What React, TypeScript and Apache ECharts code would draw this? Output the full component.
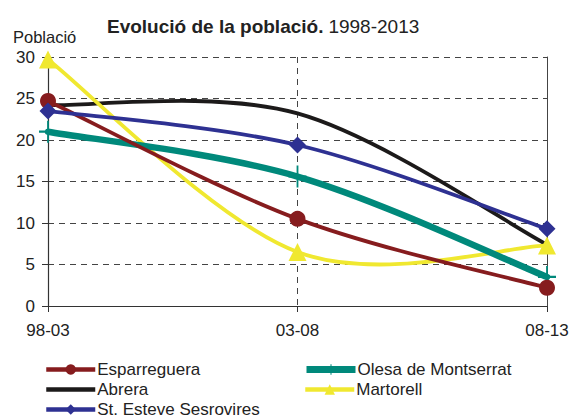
import React, { useEffect, useRef } from "react";
import * as echarts from "echarts";

const categories = ["98-03", "03-08", "08-13"];
const esparreguera = [24.7, 10.5, 2.2];
const olesa = [21.0, 15.6, 3.5];
const abrera = [24.2, 23.2, 7.4];
const martorell = [29.7, 6.5, 7.3];
const stEsteve = [23.5, 19.4, 9.3];
const yTicks = { min: 0, max: 30, interval: 5 };

const FONT = "Liberation Sans, Arial, sans-serif";
const PLUS = "path://M9,0 L11,0 L11,9 L20,9 L20,11 L11,11 L11,20 L9,20 L9,11 L0,11 L0,9 L9,9 Z";

type S = { name: string; data: number[]; color: string; width: number; symbol: string; size: any; z: number };
const seriesDefs: S[] = [
  { name: "Abrera", data: abrera, color: "#1c1a1a", width: 3.8, symbol: "none", size: 0, z: 2 },
  { name: "Martorell", data: martorell, color: "#f0e830", width: 3.8, symbol: "triangle", size: 18, z: 3 },
  { name: "Olesa de Montserrat", data: olesa, color: "#00897b", width: 6.5, symbol: PLUS, size: [18, 22], z: 4 },
  { name: "Esparreguera", data: esparreguera, color: "#861c1e", width: 3.8, symbol: "circle", size: 16, z: 5 },
  { name: "St. Esteve Sesrovires", data: stEsteve, color: "#2e3192", width: 3.8, symbol: "diamond", size: 17, z: 6 },
];

const legendPos: Record<string, [number, number]> = {
  "Esparreguera": [44, 361],
  "Abrera": [44, 381],
  "St. Esteve Sesrovires": [44, 401],
  "Olesa de Montserrat": [303, 361],
  "Martorell": [303, 381],
};

function smoothPath(pts: number[][]): string {
  const t = 1 / 6;
  let d = `M${pts[0][0]},${pts[0][1]}`;
  for (let i = 0; i < pts.length - 1; i++) {
    const p0 = pts[Math.max(i - 1, 0)];
    const p1 = pts[i];
    const p2 = pts[i + 1];
    const p3 = pts[Math.min(i + 2, pts.length - 1)];
    const c1x = p1[0] + (p2[0] - p0[0]) * t;
    const c1y = p1[1] + (p2[1] - p0[1]) * t;
    const c2x = p2[0] - (p3[0] - p1[0]) * t;
    const c2y = p2[1] - (p3[1] - p1[1]) * t;
    d += ` C${c1x},${c1y} ${c2x},${c2y} ${p2[0]},${p2[1]}`;
  }
  return d;
}

export default function App() {
  const ref = useRef<HTMLDivElement>(null);
  useEffect(() => {
    const chart = echarts.init(ref.current!, undefined, { renderer: "svg" });
    const curveSeries = seriesDefs.map((s) => ({
      type: "custom",
      name: s.name + "-curve",
      data: s.data.map((v, i) => [i, v]),
      z: s.z,
      silent: true,
      clip: false,
      renderItem: (params: any, api: any) => {
        if (params.dataIndex !== 0) return null;
        const pts = s.data.map((v, i) => api.coord([i, v]));
        return {
          type: "path",
          shape: { pathData: smoothPath(pts) },
          style: { fill: "none", stroke: s.color, lineWidth: s.width, lineCap: "round", lineJoin: "round" },
        };
      },
    }));
    const markerSeries = seriesDefs.map((s) => ({
      type: "line",
      name: s.name,
      data: s.data,
      symbol: s.symbol,
      symbolSize: s.size,
      color: s.color,
      itemStyle: { color: s.color },
      lineStyle: { color: s.color, width: s.width, opacity: 0 },
      z: s.z + 1,
    }));
    const legends = seriesDefs.map((s) => ({
      orient: "horizontal",
      left: legendPos[s.name][0],
      top: legendPos[s.name][1],
      padding: 0,
      itemWidth: 49,
      itemHeight: 13,
      textStyle: { fontSize: 17, color: "#222", fontFamily: FONT, padding: [0, 0, 0, -3] },
      data: [
        {
          name: s.name,
          lineStyle: { opacity: 1, width: s.width > 6 ? 7 : 4.5, color: s.color },
          ...(s.symbol === "none" ? { itemStyle: { opacity: 0 } } : {}),
        },
      ],
    }));
    chart.setOption({
      animation: false,
      textStyle: { fontFamily: FONT },
      title: {
        text: "{b|Evolució de la població.} {n|1998-2013}",
        left: 102,
        top: 12,
        textStyle: {
          fontWeight: "normal",
          rich: {
            b: { fontFamily: FONT, fontSize: 19, fontWeight: "bold", color: "#222" },
            n: { fontFamily: FONT, fontSize: 19, fontWeight: "normal", color: "#222" },
          },
        },
      },
      graphic: [
        {
          type: "text",
          left: 13,
          top: 28,
          style: { text: "Població", fontFamily: FONT, fontSize: 16.5, fill: "#222" },
        },
      ],
      grid: { left: 48, right: 25, top: 57, bottom: 114, containLabel: false },
      xAxis: {
        type: "category",
        data: categories,
        boundaryGap: false,
        axisLine: { lineStyle: { color: "#333", width: 1.2 } },
        axisTick: { show: true, length: 6, lineStyle: { color: "#333" } },
        axisLabel: { color: "#222", fontSize: 17, fontFamily: FONT, margin: 16 },
        splitLine: { show: true, lineStyle: { color: "#444", type: [6, 5], width: 1 } },
      },
      yAxis: [
        {
          type: "value",
          min: yTicks.min,
          max: yTicks.max,
          interval: yTicks.interval,
          axisLine: { show: true, lineStyle: { color: "#333", width: 1.2 } },
          axisTick: { show: true, length: 6, lineStyle: { color: "#333" } },
          axisLabel: { color: "#222", fontSize: 17, fontFamily: FONT, margin: 13 },
          splitLine: { show: true, lineStyle: { color: "#444", type: [6, 5], width: 1 } },
        },
        {
          type: "value",
          position: "right",
          min: yTicks.min,
          max: yTicks.max,
          interval: yTicks.interval,
          axisLine: { show: true, lineStyle: { color: "#444", width: 1 } },
          axisTick: { show: false },
          axisLabel: { show: false },
          splitLine: { show: false },
        },
      ],
      legend: legends,
      series: [...curveSeries, ...markerSeries],
    });
    return () => chart.dispose();
  }, []);
  return <div ref={ref} style={{ width: 572, height: 420, position: "absolute", left: 0, top: 0 }} />;
}
